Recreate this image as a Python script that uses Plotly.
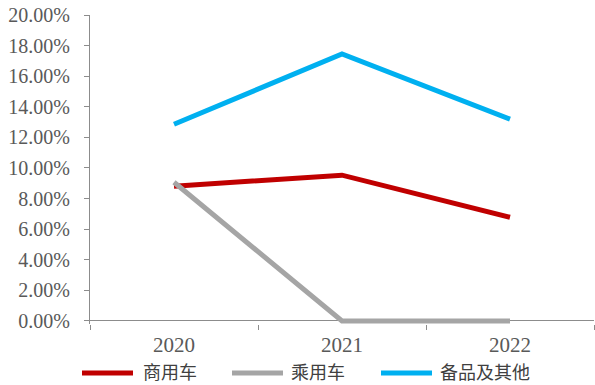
import plotly.graph_objects as go

# Yearly share by business line (%)
years = ["2020", "2021", "2022"]
commercial = [8.81, 9.53, 6.78]      # 商用车
passenger = [9.07, 0.0, 0.0]         # 乘用车
spares = [12.86, 17.45, 13.19]       # 备品及其他

series_names = ["商用车", "乘用车", "备品及其他"]
series_colors = ["#C00000", "#A5A5A5", "#00B0F0"]
y_ticks = [0, 2, 4, 6, 8, 10, 12, 14, 16, 18, 20]

W, H = 595, 385
M_L, M_R, M_T, M_B = 90, 1, 15, 61

fig = go.Figure()
for name, vals, color in zip(series_names, [commercial, passenger, spares], series_colors):
    fig.add_trace(go.Scatter(
        x=years, y=vals, name=name, mode="lines",
        line=dict(color=color, width=5),
        showlegend=False,
    ))

axis_color = "#8C8C8C"
tick_font = dict(family="Liberation Serif, Times New Roman, serif", color="#595959")

fig.update_layout(
    width=W, height=H,
    margin=dict(l=M_L, r=M_R, t=M_T, b=M_B),
    paper_bgcolor="white", plot_bgcolor="white",
    xaxis=dict(
        type="category",
        tickson="boundaries",
        ticks="outside", ticklen=5, tickcolor=axis_color, tickwidth=1.3,
        showline=False, showgrid=False, zeroline=False,
        tickfont=dict(size=21, **tick_font),
        ticklabelstandoff=6,
        range=[-0.5, 2.5],
    ),
    yaxis=dict(
        range=[-0.2, 20],
        tickvals=y_ticks,
        ticktext=[f"{v:.2f}%" for v in y_ticks],
        ticks="outside", ticklen=5, tickcolor=axis_color, tickwidth=1.3,
        showline=True, linecolor=axis_color, linewidth=1.3,
        showgrid=False,
        zeroline=True, zerolinecolor=axis_color, zerolinewidth=1.3,
        tickfont=dict(size=20, **tick_font),
        ticklabelstandoff=10,
    ),
)

# Legend row drawn beneath the axis
plot_w = W - M_L - M_R
plot_h = H - M_T - M_B


def px_x(px):
    return (px - M_L) / plot_w


def px_y(py):
    return (H - M_B - py) / plot_h


legend_items = [
    (80, 135, 141),
    (230, 285, 289),
    (379, 434, 438),
]
line_y = 373
text_y = 371
for (x0, x1, tx), name, color in zip(legend_items, series_names, series_colors):
    fig.add_shape(
        type="line", xref="paper", yref="paper",
        x0=px_x(x0 + 2), x1=px_x(x1 - 2), y0=px_y(line_y), y1=px_y(line_y),
        line=dict(color=color, width=5),
    )
    fig.add_annotation(
        xref="paper", yref="paper", x=px_x(tx), y=px_y(text_y),
        xanchor="left", yanchor="middle", showarrow=False,
        text=name,
        font=dict(family="Noto Sans CJK SC", size=18, color="#404040"),
    )

fig.write_html("out.html")
